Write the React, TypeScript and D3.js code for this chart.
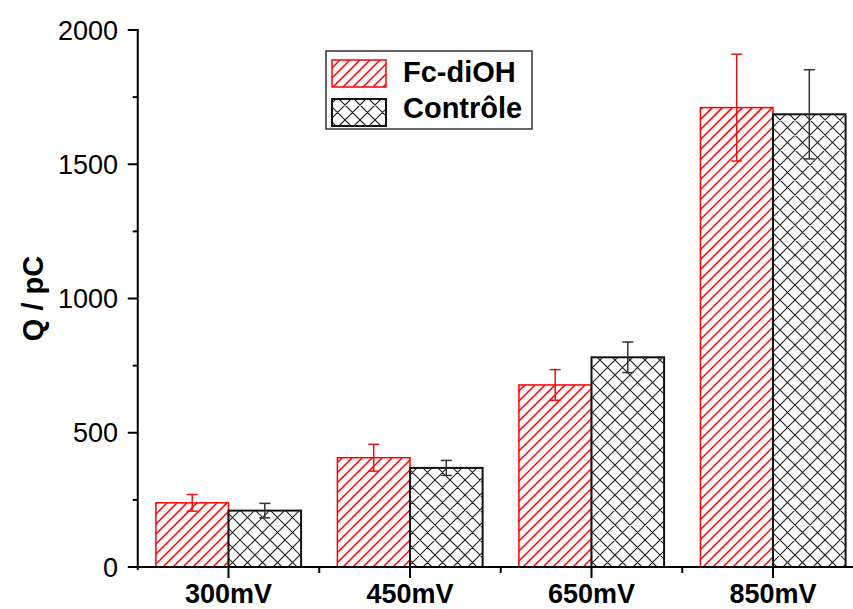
import React from "react";
import * as d3 from "d3";

const categories = ["300mV", "450mV", "650mV", "850mV"];
const seriesNames = ["Fc-diOH", "Contrôle"];
const fcValues = [239, 407, 678, 1711];
const fcErrors = [31, 50, 57, 199];
const ctrlValues = [210, 369, 781, 1686];
const ctrlErrors = [27, 28, 57, 166];
const yMajorTicks = [0, 500, 1000, 1500, 2000];
const yMinorTicks = [250, 750, 1250, 1750];

const W = 853;
const H = 609;
const left = 137.75;
const right = 863.75;
const top = 30;
const bottom = 567;

function hatchPath(x0: number, y0: number, x1: number, y1: number, s: number, dirs: number[]) {
  let d = "";
  if (dirs.includes(1)) {
    const cStart = Math.floor((x0 + y0) / s) * s;
    for (let c = cStart; c <= x1 + y1 + s; c += s) {
      d += `M${c - y1},${y1}L${c - y0},${y0}`;
    }
  }
  if (dirs.includes(-1)) {
    const cStart = Math.floor((x0 - y1) / s) * s;
    for (let c = cStart; c <= x1 - y0 + s; c += s) {
      d += `M${c + y0},${y0}L${c + y1},${y1}`;
    }
  }
  return d;
}

type S = { name: string; values: number[]; errors: number[]; stroke: string; hatch: string; err: string; sw: number; spacing: number; dirs: number[]; hw: number };

function HatchRect({ id, x, y, w, h, s }: { id: string; x: number; y: number; w: number; h: number; s: S }) {
  return (
    <g>
      <clipPath id={id}>
        <rect x={x} y={y} width={w} height={h} />
      </clipPath>
      <rect x={x} y={y} width={w} height={h} fill="#fff" />
      <path d={hatchPath(x, y, x + w, y + h, s.spacing, s.dirs)} stroke={s.hatch} strokeWidth={s.hw} fill="none" clipPath={`url(#${id})`} />
      <rect x={x} y={y} width={w} height={h} fill="none" stroke={s.stroke} strokeWidth={s.sw} />
    </g>
  );
}

export default function App() {
  const x = d3.scaleBand<string>().domain(categories).range([left, right]).paddingInner(0.2).paddingOuter(0.1);
  const xs = d3.scaleBand<string>().domain(seriesNames).range([0, x.bandwidth()]);
  const y = d3.scaleLinear().domain([0, 2000]).range([bottom, top]);
  const series: S[] = [
    { name: seriesNames[0], values: fcValues, errors: fcErrors, stroke: "#ff0000", hatch: "#ff0000", err: "#ee1111", sw: 1.5, spacing: 10, dirs: [1], hw: 1.5 },
    { name: seriesNames[1], values: ctrlValues, errors: ctrlErrors, stroke: "#111", hatch: "#222", err: "#333", sw: 2, spacing: 15, dirs: [1, -1], hw: 1.1 },
  ];
  const step = x.step();
  const font = "Arial, 'Liberation Sans', Helvetica, sans-serif";
  return (
    <svg width={W} height={H} style={{ position: "absolute", left: 0, top: 0, background: "#fff" }} fontFamily={font}>
      {series.map((s, si) =>
        categories.map((c, i) => {
          const bx = (x(c) as number) + (xs(s.name) as number);
          const bw = xs.bandwidth();
          const cx = bx + bw / 2;
          const yTop = y(s.values[i]);
          const eTop = y(s.values[i] + s.errors[i]);
          const eBot = y(s.values[i] - s.errors[i]);
          return (
            <g key={s.name + c}>
              <HatchRect id={`clip-${si}-${i}`} x={bx} y={yTop} w={bw} h={bottom - yTop} s={s} />
              <line x1={cx} x2={cx} y1={eTop} y2={eBot} stroke={s.err} strokeWidth={1.5} />
              <line x1={cx - 5.5} x2={cx + 5.5} y1={eTop} y2={eTop} stroke={s.err} strokeWidth={1.5} />
              <line x1={cx - 5.5} x2={cx + 5.5} y1={eBot} y2={eBot} stroke={s.err} strokeWidth={1.5} />
            </g>
          );
        })
      )}
      <line x1={left} x2={left} y1={top - 1} y2={bottom + 3} stroke="#000" strokeWidth={2} />
      <line x1={left - 1} x2={W + 20} y1={bottom} y2={bottom} stroke="#000" strokeWidth={2} />
      {yMajorTicks.map((t) => (
        <g key={"ym" + t}>
          <line x1={left - 10} x2={left} y1={y(t)} y2={y(t)} stroke="#000" strokeWidth={2} />
          <text x={118} y={y(t)} dy="0.36em" textAnchor="end" fontSize={27} fill="#000">{t}</text>
        </g>
      ))}
      {yMinorTicks.map((t) => (
        <line key={"yn" + t} x1={left - 5} x2={left} y1={y(t)} y2={y(t)} stroke="#000" strokeWidth={2} />
      ))}
      {categories.map((c, i) => {
        const cx = (x(c) as number) + x.bandwidth() / 2;
        return (
          <g key={"xt" + c}>
            <line x1={cx} x2={cx} y1={bottom} y2={bottom + 11} stroke="#000" strokeWidth={2} />
            {i > 0 && (
              <line x1={cx - step / 2} x2={cx - step / 2} y1={bottom} y2={bottom + 6} stroke="#000" strokeWidth={2} />
            )}
            <text x={cx} y={603} textAnchor="middle" fontSize={27} fontWeight="bold" fill="#000">{c}</text>
          </g>
        );
      })}
      <text transform={`translate(43,${(top + bottom) / 2}) rotate(-90)`} textAnchor="middle" fontSize={29} fontWeight="bold" fill="#000">Q / pC</text>
      <rect x={326} y={51} width={206} height={78} fill="#fff" stroke="#333" strokeWidth={1.5} />
      {series.map((s, si) => (
        <g key={"lg" + s.name}>
          <HatchRect id={`clip-lg-${si}`} x={332} y={60 + si * 39} w={54} h={27} s={s} />
          <text x={403} y={82 + si * 36} fontSize={29} fontWeight="bold" fill="#000">{s.name}</text>
        </g>
      ))}
    </svg>
  );
}
